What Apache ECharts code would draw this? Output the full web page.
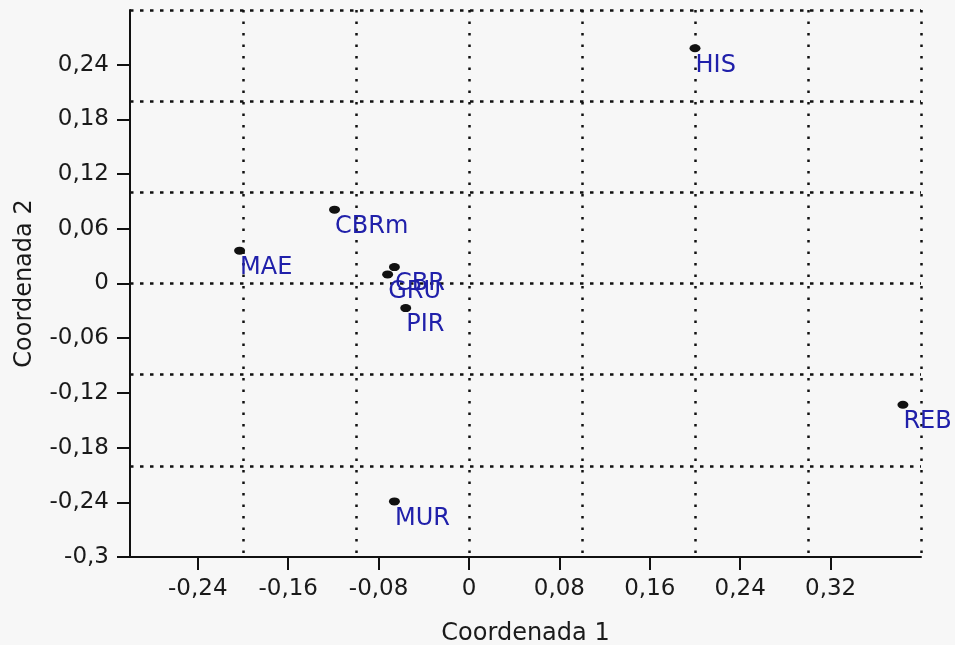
<!DOCTYPE html>
<html>
<head>
<meta charset="utf-8">
<script src="https://cdn.jsdelivr.net/npm/echarts@6/dist/echarts.min.js"></script>
<style>
html,body{margin:0;padding:0;background:#f7f7f7;}
#c{width:955px;height:645px;}
</style>
</head>
<body>
<div id="c"></div>
<script>
// Data
var names = ['HIS', 'REB', 'MUR', 'MAE', 'CBRm', 'CBR', 'GRU', 'PIR'];
var coord1 = [0.200, 0.384, -0.066, -0.203, -0.119, -0.066, -0.072, -0.056];
var coord2 = [0.258, -0.133, -0.239, 0.036, 0.081, 0.018, 0.010, -0.027];
var xTickValues = [-0.24, -0.16, -0.08, 0, 0.08, 0.16, 0.24, 0.32];
var yTickValues = [-0.3, -0.24, -0.18, -0.12, -0.06, 0, 0.06, 0.12, 0.18, 0.24];
var xName = 'Coordenada 1';
var yName = 'Coordenada 2';

function fmt(v) {
  if (Math.abs(v) < 1e-9) return '0';
  return String(parseFloat(v.toFixed(2))).replace('.', ',');
}

var pts = names.map(function (n, i) { return { name: n, value: [coord1[i], coord2[i]] }; });

var FONT = 'DejaVu Sans';
var gridLineX = { show: true, showMinLine: false, lineStyle: { color: '#111', width: 2.5, type: [2.5, 9] } };
var gridLineY = { show: true, showMinLine: false, lineStyle: { color: '#111', width: 2.5, type: [3.5, 6.5] } };

var chart = echarts.init(document.getElementById('c'), null, { renderer: 'canvas' });
chart.setOption({
  backgroundColor: '#f7f7f7',
  animation: false,
  grid: { left: 130, right: 34, top: 10, bottom: 88, containLabel: false, outerBoundsMode: 'none' },
  xAxis: [
    {
      type: 'value', min: -0.3, max: 0.4, interval: 0.1,
      axisLine: { show: false }, axisTick: { show: false }, axisLabel: { show: false },
      splitLine: gridLineX
    },
    {
      type: 'value', min: -0.3, max: 0.4, position: 'bottom',
      axisLine: { show: true, onZero: false, lineStyle: { color: '#111', width: 2 } },
      axisTick: { show: true, length: 13, customValues: xTickValues, lineStyle: { color: '#111', width: 2 } },
      axisLabel: { show: true, customValues: xTickValues, formatter: fmt, margin: 21,
        fontFamily: FONT, fontSize: 23, color: '#1a1a1a' },
      splitLine: { show: false },
      name: xName, nameLocation: 'middle', nameGap: 65,
      nameTextStyle: { fontFamily: FONT, fontSize: 24, color: '#1a1a1a' }
    }
  ],
  yAxis: [
    {
      type: 'value', min: -0.3, max: 0.3, interval: 0.1,
      axisLine: { show: false }, axisTick: { show: false }, axisLabel: { show: false },
      splitLine: gridLineY
    },
    {
      type: 'value', min: -0.3, max: 0.3, position: 'left',
      axisLine: { show: true, onZero: false, lineStyle: { color: '#111', width: 2 } },
      axisTick: { show: true, length: 13, customValues: yTickValues, lineStyle: { color: '#111', width: 2 } },
      axisLabel: { show: true, customValues: yTickValues, formatter: fmt, margin: 21,
        fontFamily: FONT, fontSize: 23, color: '#1a1a1a' },
      splitLine: { show: false },
      name: yName, nameLocation: 'middle', nameGap: 93,
      nameTextStyle: { fontFamily: FONT, fontSize: 24, color: '#1a1a1a' }
    }
  ],
  series: [{
    type: 'scatter',
    xAxisIndex: 0, yAxisIndex: 0,
    symbol: 'circle',
    symbolSize: [11, 8],
    itemStyle: { color: '#111', opacity: 1 },
    label: {
      show: true,
      formatter: '{b}',
      position: [6, 21],
      align: 'left',
      verticalAlign: 'middle',
      fontFamily: FONT,
      fontSize: 24,
      color: '#2020aa'
    },
    labelLayout: { hideOverlap: false },
    data: pts,
    z: 5
  }]
});
</script>
</body>
</html>
